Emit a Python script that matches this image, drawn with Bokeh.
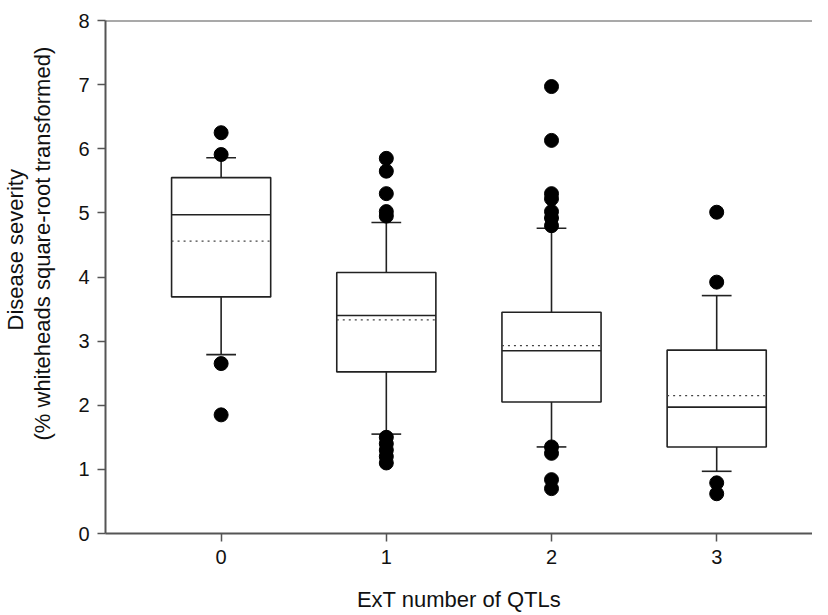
from bokeh.plotting import figure
from bokeh.models import Span, FixedTicker, Title
from bokeh.embed import file_html
from bokeh.resources import INLINE

# Data (values on the square-root scale)
groups = [0, 1, 2, 3]
q1 = [3.69, 2.52, 2.05, 1.35]
median = [4.97, 3.40, 2.85, 1.97]
mean = [4.56, 3.33, 2.93, 2.15]
q3 = [5.55, 4.07, 3.45, 2.86]
whisker_low = [2.79, 1.55, 1.35, 0.97]
whisker_high = [5.86, 4.85, 4.76, 3.71]
outlier_group = [0, 0, 0, 0,
                 1, 1, 1, 1, 1, 1, 1, 1, 1, 1,
                 2, 2, 2, 2, 2, 2, 2, 2, 2, 2, 2,
                 3, 3, 3, 3]
outlier_value = [6.25, 5.91, 2.65, 1.85,
                 5.85, 5.65, 5.30, 5.02, 4.95, 1.50, 1.40, 1.30, 1.20, 1.10,
                 6.97, 6.13, 5.30, 5.22, 5.02, 4.92, 4.80, 1.35, 1.25, 0.84, 0.70,
                 5.01, 3.92, 0.79, 0.62]
y_title_1 = "Disease severity"
y_title_2 = "(% whiteheads square-root transformed)"
x_title = "ExT number of QTLs"

box_w = 0.6
cap_w = 0.18
ink = "#222222"
axis_col = "#555555"
font = "Liberation Sans"

p = figure(width=812, height=615, x_range=(-0.70, 3.58), y_range=(0, 8),
           output_backend="svg", toolbar_location=None,
           min_border_left=98, min_border_right=0, min_border_top=20,
           min_border_bottom=82)
p.outline_line_color = None
p.xgrid.visible = False
p.ygrid.visible = False
p.background_fill_color = "white"
p.border_fill_color = "white"

left = [g - box_w / 2 for g in groups]
right = [g + box_w / 2 for g in groups]
p.quad(left=left, right=right, bottom=q1, top=q3, fill_color="white",
       line_color=ink, line_width=1.6)
p.segment(x0=left, x1=right, y0=median, y1=median, line_color=ink, line_width=1.6)
p.segment(x0=left, x1=right, y0=mean, y1=mean, line_color="#444444",
          line_width=1.2, line_dash="2 4")
p.segment(x0=groups, x1=groups, y0=q3, y1=whisker_high, line_color=ink, line_width=1.6)
p.segment(x0=groups, x1=groups, y0=q1, y1=whisker_low, line_color=ink, line_width=1.6)
cl = [g - cap_w / 2 for g in groups]
cr = [g + cap_w / 2 for g in groups]
p.segment(x0=cl, x1=cr, y0=whisker_high, y1=whisker_high, line_color=ink, line_width=1.6)
p.segment(x0=cl, x1=cr, y0=whisker_low, y1=whisker_low, line_color=ink, line_width=1.6)
p.scatter(x=outlier_group, y=outlier_value, size=14, fill_color="black",
          line_color="black")

p.add_layout(Span(location=8, dimension="width", line_color=axis_col, line_width=2))

p.xaxis.ticker = FixedTicker(ticks=groups)
p.yaxis.ticker = FixedTicker(ticks=list(range(0, 9)))
for ax in (p.xaxis[0], p.yaxis[0]):
    ax.axis_line_color = axis_col
    ax.axis_line_width = 2
    ax.major_tick_line_color = axis_col
    ax.major_tick_line_width = 1.5
    ax.major_tick_in = 0
    ax.major_tick_out = 8
    ax.minor_tick_line_color = None
    ax.major_label_text_font = font
    ax.major_label_text_font_size = "20px"
    ax.major_label_text_color = "#111111"
    ax.axis_label_text_font = font
    ax.axis_label_text_font_size = "22px"
    ax.axis_label_text_font_style = "normal"
    ax.axis_label_text_color = "#111111"
    ax.major_label_standoff = 8

p.xaxis.axis_label = x_title
p.xaxis.axis_label_standoff = 20

# spacer between the y tick labels and the two-line y title
p.yaxis.axis_label = " "
p.yaxis.axis_label_text_font_size = "1px"
p.yaxis.axis_label_standoff = 17

for txt, off in ((y_title_2, 93), (y_title_1, 203)):
    p.add_layout(Title(text=txt, align="left", offset=off, standoff=0,
                       text_font=font, text_font_size="22px",
                       text_font_style="normal", text_color="#111111"), "left")

open("out.html", "w").write(file_html(p, INLINE))
